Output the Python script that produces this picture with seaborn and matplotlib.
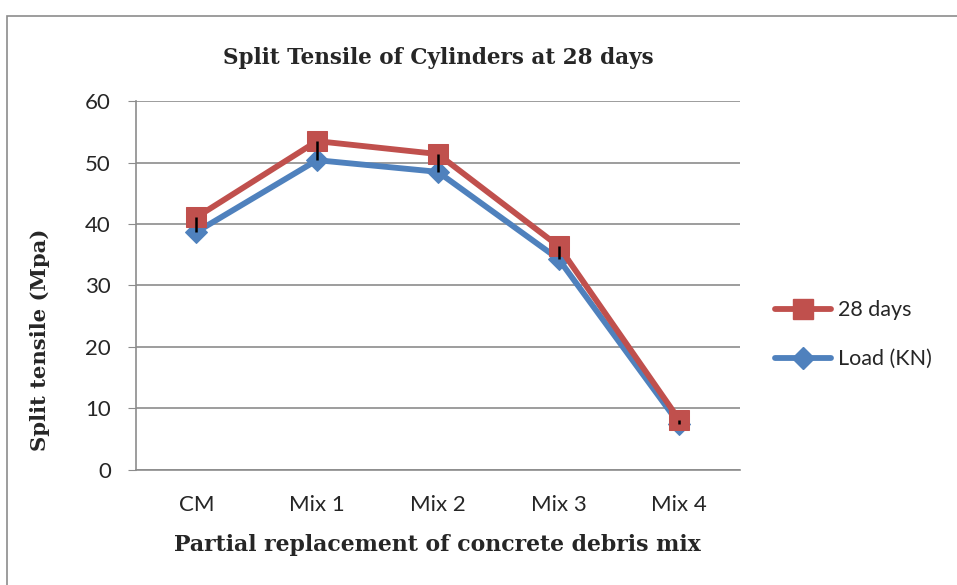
import pandas as pd
import seaborn as sns
import matplotlib.pyplot as plt
from matplotlib.patches import Rectangle
from matplotlib.lines import Line2D

# Data
mixes = ['CM', 'Mix 1', 'Mix 2', 'Mix 3', 'Mix 4']
days_28 = [41.1, 53.5, 51.4, 36.4, 8.1]
load_kn = [38.7, 50.4, 48.5, 34.3, 7.4]
y_ticks = [0, 10, 20, 30, 40, 50, 60]

red = '#C0504D'
blue = '#4F81BD'

df = pd.DataFrame({'Mix': mixes, '28 days': days_28, 'Load (KN)': load_kn})

sns.set_style('white')
plt.rcParams['font.family'] = ['Lato', 'DejaVu Sans']

fig = plt.figure(figsize=(9.57, 5.85), dpi=100)
ax = fig.add_axes([0.142, 0.197, 0.631, 0.630])

# outer chart border
fig.patches.append(Rectangle((0.007, -0.05), 1.2, 1.022, transform=fig.transFigure,
                             fill=False, edgecolor='#8c8c8c', linewidth=1.2))

x = list(range(len(mixes)))
sns.lineplot(x=x, y=df['Load (KN)'], ax=ax, color=blue, linewidth=4.2,
             marker='D', markersize=11, markeredgecolor=blue)
sns.lineplot(x=x, y=df['28 days'], ax=ax, color=red, linewidth=4.2,
             marker='s', markersize=14, markeredgecolor=red)

# high-low lines between the two series
ax.vlines(x, df['Load (KN)'], df['28 days'], colors='black', linewidth=1.8, zorder=5)

ax.set_xlim(-0.5, 4.5)
ax.set_ylim(0, 60)
ax.set_yticks(y_ticks)
ax.set_xticks(x)
ax.set_xticklabels(mixes)
ax.yaxis.grid(True, color='#8c8c8c', linewidth=1.2)
ax.set_axisbelow(True)
for s in ['top', 'right']:
    ax.spines[s].set_visible(False)
for s in ['left', 'bottom']:
    ax.spines[s].set_color('#8c8c8c')
    ax.spines[s].set_linewidth(1.2)
ax.tick_params(axis='y', left=True, length=6, color='#8c8c8c', labelsize=16, pad=12)
ax.tick_params(axis='x', bottom=False, labelsize=16, pad=15)

serif = ['DejaVu Serif']
ax.set_title('Split Tensile of Cylinders at 28 days', fontsize=15.5, fontweight='bold',
             family=serif, pad=27)
ax.set_xlabel('Partial replacement of concrete debris mix', fontsize=15.8,
              fontweight='bold', family=serif, labelpad=13)
ax.set_ylabel('Split tensile (Mpa)', fontsize=15.2, fontweight='bold', family=serif)
ax.yaxis.set_label_coords(-0.143, 0.352)

handles = [
    Line2D([], [], color=red, linewidth=4.2, marker='s', markersize=14),
    Line2D([], [], color=blue, linewidth=4.2, marker='D', markersize=11),
]
fig.legend(handles, ['28 days', 'Load (KN)'], loc='center left',
           bbox_to_anchor=(0.79, 0.428), frameon=False, fontsize=15.5,
           handlelength=2.6, labelspacing=1.35, handletextpad=0.3)

fig.savefig('out.png', dpi=100)
